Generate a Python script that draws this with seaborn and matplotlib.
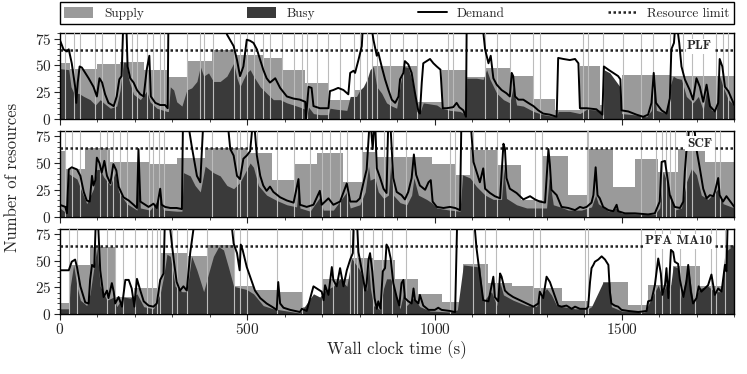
import numpy as np
import matplotlib
matplotlib.use('Agg')
import matplotlib.pyplot as plt
import seaborn as sns
from matplotlib.patches import Patch
from matplotlib.lines import Line2D
from matplotlib.ticker import MultipleLocator

# ---- data ----
panel_names = ['PLF', 'SCF', 'PFA MA10']
resource_limit = 64

# supply: step start times and levels
plf_supply = [(0, 52), (28, 47), (99, 51), (161, 53), (224, 46), (290, 39), (339, 54), (406, 64),
              (464, 60), (543, 57), (592, 46), (654, 34), (717, 18), (788, 27), (832, 49), (957, 16),
              (1019, 46), (1086, 39), (1135, 48), (1201, 40), (1264, 19), (1321, 8), (1388, 49),
              (1441, 13), (1499, 41), (1628, 40)]
scf_supply = [(0, 61), (15, 44), (68, 64), (135, 51), (241, 49), (312, 55), (388, 64), (499, 59),
              (566, 34), (624, 49), (686, 59), (757, 32), (806, 60), (846, 56), (992, 49), (1055, 39),
              (1095, 62), (1170, 48), (1232, 15), (1290, 57), (1357, 20), (1410, 63), (1477, 28),
              (1535, 54), (1597, 42), (1650, 63), (1721, 51)]
pfa_supply = [(0, 10), (24, 46), (81, 63), (148, 16), (197, 24), (268, 57), (339, 54), (392, 65),
              (464, 26), (517, 23), (579, 21), (646, 7), (699, 33), (775, 52), (837, 51), (895, 33),
              (957, 19), (1019, 11), (1077, 47), (1144, 29), (1206, 26), (1264, 24), (1339, 12),
              (1410, 8), (1450, 30), (1517, 9), (1570, 27), (1637, 45), (1708, 26), (1775, 65)]

# busy resources
plf_busy = [(0, 47), (24, 46), (30, 30), (39, 23), (50, 24), (64, 21), (81, 18), (95, 13), (108, 18),
            (117, 15), (135, 10), (152, 12), (161, 27), (170, 53), (177, 53), (184, 37), (197, 23),
            (215, 18), (232, 26), (241, 16), (259, 10), (286, 7), (290, 7), (295, 30), (304, 27),
            (312, 16), (326, 12), (339, 27), (352, 29), (366, 35), (375, 49), (384, 40), (397, 43),
            (410, 35), (428, 35), (446, 40), (464, 52), (473, 38), (481, 30), (490, 37), (499, 43),
            (508, 46), (517, 40), (535, 30), (552, 24), (570, 18), (588, 18), (606, 15), (624, 13),
            (641, 11), (655, 9), (659, 2), (664, 11), (677, 5), (694, 4), (717, 4), (721, 10),
            (739, 9), (766, 8), (775, 21), (792, 21), (801, 27), (810, 30), (820, 37), (828, 46),
            (837, 49), (846, 30), (859, 24), (872, 15), (886, 12), (899, 10), (908, 30), (917, 49),
            (930, 48), (939, 37), (952, 12), (961, 6), (970, 15), (1006, 13), (1019, 10), (1041, 8),
            (1068, 7), (1084, 4), (1086, 38), (1112, 38), (1130, 37), (1139, 46), (1148, 37),
            (1166, 24), (1184, 18), (1201, 15), (1210, 30), (1219, 13), (1237, 12), (1264, 7),
            (1290, 4), (1326, 2), (1330, 7), (1361, 7), (1388, 5), (1406, 9), (1450, 8), (1452, 46),
            (1468, 43), (1495, 30), (1499, 5), (1530, 4), (1566, 2), (1579, 8), (1585, 40), (1592, 8),
            (1619, 5), (1628, 30), (1637, 40), (1646, 38), (1659, 37), (1672, 21), (1690, 15),
            (1704, 21), (1717, 8), (1726, 27), (1739, 8), (1752, 7), (1761, 40), (1770, 30),
            (1784, 18), (1800, 13)]
scf_busy = [(0, 8), (19, 3), (24, 40), (46, 35), (59, 23), (72, 12), (90, 26), (99, 44), (108, 44),
            (117, 37), (135, 29), (148, 41), (157, 23), (179, 12), (206, 6), (210, 50), (215, 8),
            (241, 6), (268, 18), (277, 6), (312, 5), (326, 5), (330, 41), (348, 38), (361, 29),
            (375, 23), (388, 47), (410, 41), (428, 38), (446, 29), (464, 26), (481, 32), (499, 44),
            (508, 50), (517, 46), (530, 29), (552, 20), (579, 15), (606, 11), (632, 9), (637, 29),
            (641, 8), (668, 5), (694, 18), (703, 6), (730, 6), (766, 23), (775, 8), (801, 11),
            (815, 23), (824, 47), (828, 34), (841, 36), (850, 23), (864, 17), (877, 20), (883, 48),
            (890, 20), (908, 13), (926, 11), (939, 20), (945, 36), (957, 20), (979, 16), (992, 13),
            (1006, 8), (1041, 6), (1068, 5), (1075, 39), (1095, 36), (1112, 28), (1135, 20),
            (1157, 16), (1179, 16), (1185, 45), (1192, 17), (1219, 11), (1246, 8), (1272, 8),
            (1299, 8), (1306, 36), (1317, 11), (1335, 9), (1357, 6), (1392, 6), (1419, 9), (1430, 20),
            (1437, 12), (1464, 5), (1486, 8), (1499, 3), (1588, 2), (1601, 8), (1610, 42), (1624, 29),
            (1641, 6), (1659, 8), (1672, 32), (1686, 45), (1699, 39), (1712, 20), (1730, 16),
            (1757, 26), (1770, 12), (1800, 8)]
pfa_busy = [(0, 5), (24, 5), (28, 26), (37, 46), (46, 26), (55, 13), (72, 8), (81, 19), (90, 41),
            (99, 62), (108, 26), (126, 13), (144, 16), (152, 7), (170, 16), (188, 15), (206, 19),
            (224, 7), (250, 5), (268, 19), (277, 35), (286, 56), (295, 54), (308, 26), (326, 21),
            (339, 21), (352, 54), (366, 41), (384, 21), (397, 38), (410, 54), (424, 63), (437, 60),
            (450, 44), (464, 26), (499, 23), (517, 19), (543, 8), (570, 5), (606, 3), (641, 1),
            (677, 19), (694, 16), (708, 22), (730, 26), (748, 33), (766, 26), (779, 52), (801, 41),
            (819, 22), (824, 47), (829, 24), (837, 8), (855, 4), (864, 24), (872, 33), (883, 33),
            (895, 21), (908, 5), (917, 19), (926, 8), (944, 15), (961, 7), (988, 3), (1041, 2),
            (1061, 4), (1077, 46), (1121, 44), (1130, 12), (1152, 21), (1166, 8), (1175, 29),
            (1184, 18), (1210, 13), (1246, 8), (1272, 7), (1281, 15), (1299, 24), (1312, 18),
            (1326, 8), (1375, 5), (1410, 5), (1419, 7), (1450, 30), (1468, 30), (1472, 7), (1499, 3),
            (1561, 2), (1575, 12), (1588, 21), (1597, 27), (1606, 18), (1619, 27), (1628, 21),
            (1637, 45), (1650, 43), (1659, 15), (1677, 45), (1690, 12), (1708, 24), (1730, 26),
            (1748, 21), (1766, 21), (1775, 58), (1800, 65)]

# demand (values above 80 are off the chart)
plf_demand = [(0, 74), (10, 65), (19, 63), (24, 65), (32, 52), (41, 30), (44, 15), (48, 34), (53, 49),
              (59, 48), (68, 43), (77, 38), (90, 30), (99, 21), (106, 38), (113, 34), (121, 23),
              (130, 15), (144, 12), (152, 21), (159, 37), (165, 40), (170, 95), (177, 95), (181, 49),
              (188, 38), (197, 34), (206, 27), (215, 23), (224, 21), (232, 46), (239, 59), (243, 21),
              (255, 15), (268, 13), (281, 13), (288, 10), (290, 95), (440, 95), (446, 79), (464, 68),
              (473, 55), (481, 40), (490, 49), (499, 74), (508, 73), (517, 71), (526, 65), (535, 55),
              (543, 46), (552, 38), (561, 34), (575, 38), (588, 29), (606, 21), (624, 19), (641, 18),
              (655, 16), (657, 0), (664, 30), (672, 29), (677, 12), (694, 10), (717, 10), (721, 26),
              (730, 27), (743, 29), (757, 27), (770, 23), (775, 43), (784, 45), (788, 43), (797, 55),
              (806, 68), (810, 95), (828, 95), (837, 74), (846, 59), (850, 62), (859, 49), (868, 37),
              (877, 27), (886, 18), (895, 15), (904, 21), (908, 37), (917, 43), (921, 54), (930, 51),
              (939, 43), (948, 24), (957, 7), (961, 5), (966, 34), (970, 52), (979, 54), (988, 56),
              (997, 52), (1006, 49), (1016, 46), (1022, 10), (1032, 10), (1050, 11), (1059, 15),
              (1066, 11), (1077, 8), (1084, 2), (1086, 95), (1126, 95), (1135, 65), (1144, 52),
              (1150, 59), (1157, 38), (1166, 32), (1179, 27), (1192, 24), (1201, 21), (1206, 43),
              (1210, 40), (1215, 21), (1224, 18), (1237, 18), (1250, 15), (1264, 12), (1277, 8),
              (1290, 5), (1308, 4), (1326, 2), (1330, 57), (1344, 56), (1361, 55), (1375, 56),
              (1384, 52), (1388, 10), (1406, 10), (1432, 9), (1448, 4), (1452, 49), (1464, 46),
              (1477, 43), (1490, 40), (1496, 37), (1499, 8), (1517, 7), (1539, 4), (1557, 2), (1570, 4),
              (1579, 15), (1585, 43), (1591, 15), (1606, 8), (1619, 5), (1628, 19), (1632, 65),
              (1639, 71), (1644, 95), (1648, 85), (1653, 71), (1659, 49), (1668, 37), (1681, 27),
              (1690, 18), (1699, 38), (1708, 30), (1717, 16), (1726, 32), (1735, 12), (1748, 7),
              (1757, 15), (1761, 56), (1768, 49), (1775, 30), (1784, 26), (1800, 13)]
scf_demand = [(0, 11), (15, 9), (19, 3), (24, 44), (32, 46), (46, 44), (55, 38), (64, 23), (72, 15),
              (80, 14), (86, 38), (90, 29), (95, 34), (99, 55), (106, 50), (112, 41), (119, 52),
              (126, 38), (135, 31), (143, 49), (151, 43), (157, 28), (170, 18), (184, 15), (197, 11),
              (206, 8), (210, 63), (215, 14), (224, 12), (237, 9), (250, 12), (259, 8), (268, 26),
              (272, 11), (281, 9), (295, 8), (312, 8), (326, 7), (329, 95), (339, 95), (352, 66),
              (366, 38), (375, 32), (384, 95), (446, 95), (455, 63), (464, 57), (473, 38), (481, 35),
              (490, 54), (499, 57), (508, 61), (517, 95), (526, 57), (535, 38), (543, 29), (552, 24),
              (561, 28), (570, 23), (588, 18), (606, 15), (624, 13), (637, 35), (641, 11), (659, 9),
              (677, 11), (694, 24), (699, 11), (717, 17), (730, 11), (748, 14), (766, 31), (775, 14),
              (792, 14), (801, 17), (810, 31), (819, 44), (828, 95), (835, 63), (841, 95), (846, 45),
              (855, 36), (864, 26), (872, 22), (877, 95), (881, 95), (890, 36), (899, 23), (912, 20),
              (921, 16), (930, 23), (939, 36), (945, 58), (951, 39), (961, 29), (975, 25), (984, 32),
              (990, 34), (995, 14), (1006, 9), (1024, 8), (1041, 9), (1055, 8), (1068, 6), (1072, 95),
              (1095, 95), (1104, 51), (1112, 42), (1121, 32), (1130, 45), (1135, 26), (1148, 22),
              (1161, 19), (1175, 17), (1184, 68), (1188, 63), (1192, 36), (1201, 26), (1219, 22),
              (1237, 16), (1255, 19), (1268, 16), (1281, 14), (1295, 13), (1304, 63), (1308, 48),
              (1312, 25), (1326, 20), (1339, 9), (1357, 8), (1375, 6), (1388, 9), (1397, 8), (1406, 9),
              (1419, 13), (1424, 20), (1430, 46), (1435, 20), (1441, 17), (1450, 9), (1464, 6),
              (1477, 5), (1486, 11), (1490, 5), (1508, 3), (1535, 3), (1570, 2), (1588, 3), (1601, 14),
              (1606, 51), (1615, 52), (1619, 42), (1628, 20), (1641, 9), (1655, 8), (1664, 14),
              (1668, 42), (1672, 60), (1677, 72), (1681, 95), (1690, 95), (1699, 63), (1708, 45),
              (1717, 26), (1726, 17), (1735, 20), (1744, 19), (1748, 23), (1757, 36), (1761, 20),
              (1770, 14), (1779, 19), (1800, 9)]
pfa_demand = [(0, 41), (24, 41), (32, 49), (41, 51), (46, 44), (55, 26), (68, 11), (77, 10), (81, 32),
              (86, 46), (92, 44), (97, 95), (101, 95), (108, 41), (117, 16), (126, 22), (130, 15),
              (139, 29), (144, 21), (148, 10), (157, 16), (166, 7), (175, 32), (184, 32), (192, 24),
              (199, 7), (206, 33), (215, 22), (224, 12), (237, 8), (250, 7), (259, 10), (268, 32),
              (277, 38), (281, 95), (290, 95), (299, 66), (304, 51), (312, 30), (321, 22), (330, 26),
              (339, 22), (348, 57), (357, 80), (361, 95), (455, 95), (464, 66), (473, 57), (480, 41),
              (483, 65), (488, 60), (499, 44), (508, 35), (521, 22), (535, 15), (552, 10), (566, 7),
              (579, 4), (583, 30), (588, 10), (597, 6), (615, 4), (641, 2), (646, 5), (659, 3),
              (677, 26), (686, 24), (699, 21), (704, 13), (708, 27), (717, 18), (726, 44), (730, 32),
              (739, 26), (748, 43), (757, 26), (766, 41), (775, 51), (782, 57), (785, 95), (792, 95),
              (797, 58), (806, 41), (815, 22), (819, 29), (824, 51), (828, 57), (834, 40), (840, 15),
              (846, 5), (850, 12), (856, 5), (862, 40), (868, 43), (872, 65), (877, 62), (883, 52),
              (890, 29), (899, 16), (906, 8), (912, 29), (917, 32), (921, 15), (930, 12), (939, 10),
              (944, 24), (948, 13), (957, 10), (961, 18), (970, 8), (984, 4), (1001, 4), (1010, 6),
              (1019, 4), (1041, 3), (1055, 2), (1061, 95), (1104, 95), (1112, 62), (1121, 37),
              (1130, 13), (1144, 12), (1152, 26), (1157, 35), (1161, 16), (1170, 12), (1175, 38),
              (1179, 35), (1188, 22), (1197, 19), (1210, 16), (1228, 13), (1246, 10), (1264, 7),
              (1277, 10), (1281, 21), (1290, 15), (1299, 35), (1308, 30), (1317, 21), (1326, 12),
              (1330, 8), (1339, 7), (1352, 8), (1357, 7), (1366, 5), (1375, 7), (1388, 5), (1406, 5),
              (1410, 7), (1415, 30), (1419, 43), (1424, 46), (1428, 49), (1437, 51), (1446, 54),
              (1455, 51), (1464, 46), (1468, 21), (1472, 10), (1481, 8), (1490, 7), (1499, 4),
              (1517, 3), (1544, 2), (1566, 3), (1570, 12), (1579, 13), (1588, 27), (1597, 52),
              (1604, 38), (1608, 18), (1615, 27), (1619, 43), (1624, 15), (1631, 60), (1637, 58),
              (1641, 49), (1650, 47), (1655, 32), (1664, 16), (1672, 30), (1677, 46), (1684, 21),
              (1690, 10), (1699, 15), (1705, 26), (1712, 21), (1721, 24), (1730, 27), (1739, 37),
              (1748, 18), (1757, 24), (1766, 21), (1775, 46), (1779, 40), (1783, 95), (1800, 95)]

# scaling events (thin vertical lines)
plf_events = [15, 37, 55, 95, 112, 148, 166, 192, 206, 232, 250, 268, 277, 339, 375, 384, 410, 464,
              481, 499, 517, 543, 561, 592, 624, 646, 659, 686, 717, 748, 784, 801, 820, 832, 846, 881,
              917, 952, 1037, 1050, 1135, 1166, 1201, 1264, 1281, 1397, 1410, 1450, 1504, 1552, 1584,
              1628, 1664, 1686, 1717, 1752, 1770, 1784]
scf_events = [15, 32, 55, 108, 126, 143, 161, 179, 237, 250, 264, 277, 406, 473, 481, 499, 526, 579,
              624, 668, 699, 721, 748, 766, 806, 841, 864, 890, 924, 1041, 1055, 1104, 1135, 1166, 1268,
              1286, 1406, 1410, 1552, 1592, 1606, 1619, 1628, 1641, 1672, 1686, 1748, 1761]
pfa_events = [24, 46, 126, 148, 170, 201, 232, 246, 259, 268, 299, 312, 339, 392, 464, 481, 499, 579,
              646, 699, 730, 775, 784, 792, 810, 837, 859, 886, 924, 1041, 1104, 1135, 1164, 1264, 1281,
              1401, 1410, 1552, 1588, 1606, 1628, 1655, 1695, 1739, 1752, 1775]

supplies = [plf_supply, scf_supply, pfa_supply]
busies = [plf_busy, scf_busy, pfa_busy]
demands = [plf_demand, scf_demand, pfa_demand]
events = [plf_events, scf_events, pfa_events]

# ---- style ----
sns.set_theme(style='ticks')
plt.rcParams['font.family'] = ['cmr10', 'DejaVu Serif']
plt.rcParams['axes.formatter.use_mathtext'] = True
plt.rcParams['mathtext.fontset'] = 'cm'

supply_col = '#9a9a9a'
busy_col = '#3a3a3a'
event_col = '#bcbcbc'
t_end = 1800

fig = plt.figure(figsize=(7.47, 3.74), dpi=100)
lefts, width = 0.080, 0.903
bottoms = [0.682, 0.421, 0.160]
height = 0.229
axes = [fig.add_axes([lefts, b, width, height]) for b in bottoms]

for i, ax in enumerate(axes):
    st, sv = zip(*supplies[i])
    st = list(st) + [t_end]
    sv = list(sv) + [sv[-1]]
    ax.fill_between(st, sv, step='post', color=supply_col, lw=0, zorder=1)

    bt, bv = zip(*busies[i])
    ax.fill_between(bt, bv, color=busy_col, lw=0, zorder=2)

    for e in events[i]:
        ax.axvline(e, color=event_col, lw=0.8, zorder=3)

    ax.axhline(resource_limit, color='#222222', lw=1.8, ls=(0, (1, 1)), zorder=4)

    dt, dv = zip(*demands[i])
    sns.lineplot(x=list(dt), y=list(dv), ax=ax, color='black', lw=1.4, zorder=5,
                 estimator=None, sort=False)

    ax.text(0.967, 68, panel_names[i], transform=ax.get_yaxis_transform(), ha='right', va='center',
            family='cmb10', fontsize=9.5, zorder=6,
            bbox=dict(facecolor='white', edgecolor='none', pad=1.0))

    ax.set_xlim(0, t_end)
    ax.set_ylim(0, 80)
    ax.set_yticks([0, 25, 50, 75])
    ax.yaxis.set_minor_locator(MultipleLocator(5))
    ax.xaxis.set_major_locator(MultipleLocator(500))
    ax.xaxis.set_minor_locator(MultipleLocator(100))
    ax.tick_params(which='major', direction='out', length=4, width=0.8, labelsize=11, pad=2)
    ax.tick_params(which='minor', direction='out', length=2, width=0.6)
    for s in ax.spines.values():
        s.set_linewidth(1.0)
        s.set_color('black')
    if i < 2:
        ax.set_xticklabels([])

axes[-1].set_xlabel('Wall clock time (s)', fontsize=12, labelpad=2)
fig.text(0.016, 0.525, 'Number of resources', rotation=90, ha='center', va='center', fontsize=12)

handles = [Patch(facecolor=supply_col, edgecolor='none', label='Supply'),
           Patch(facecolor=busy_col, edgecolor='none', label='Busy'),
           Line2D([], [], color='black', lw=1.4, label='Demand'),
           Line2D([], [], color='#222222', lw=1.8, ls=(0, (1, 1)), label='Resource limit')]
leg = fig.legend(handles=handles, loc='lower left', bbox_to_anchor=(lefts, 0.935, width, 0.056),
                 mode='expand', ncol=4, borderaxespad=0, fontsize=9.5, frameon=True, fancybox=False,
                 framealpha=1, edgecolor='black', handlelength=2.2, handleheight=0.9,
                 borderpad=0.35, handletextpad=0.8)
leg.get_frame().set_linewidth(1.0)

fig.savefig('out.png', dpi=100)
